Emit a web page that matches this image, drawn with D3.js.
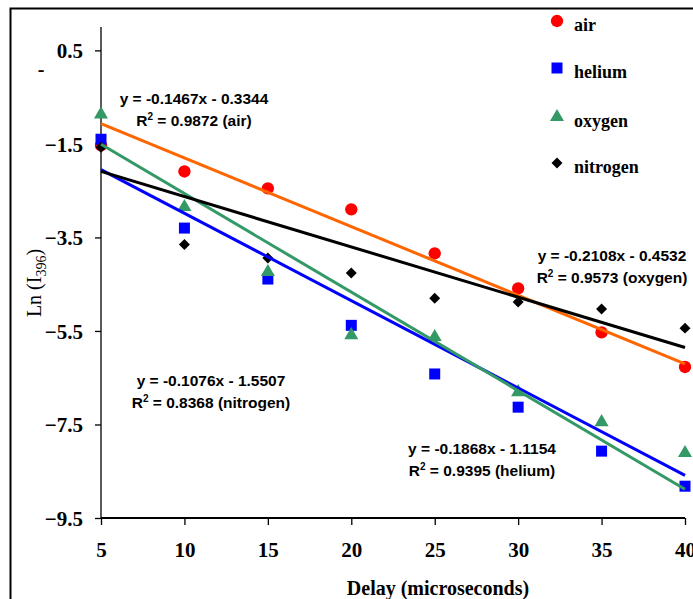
<!DOCTYPE html>
<html lang="en">
<head>
<meta charset="UTF-8">
<title>Ln(I396) vs delay</title>
<script src="https://cdn.jsdelivr.net/npm/d3@7"></script>
<style>
body{margin:0;background:#fff}
.serif{font-family:"Liberation Serif","Times New Roman",serif;font-weight:bold}
.eq{font-family:"Liberation Sans",Arial,sans-serif;font-weight:bold;font-size:15.5px}
</style>
</head>
<body>
<div id="grafica"></div>
<script>
// datos
var delays=[5,10,15,20,25,30,35,40]
var air=[-1.53,-2.09,-2.45,-2.90,-3.84,-4.59,-5.53,-6.27]
var helium=[-1.40,-3.30,-4.39,-5.38,-6.42,-7.13,-8.07,-8.82]
var oxygen=[-0.87,-2.85,-4.24,-5.59,-5.63,-6.81,-7.45,-8.11]
var nitrogen=[-1.57,-3.65,-3.94,-4.26,-4.80,-4.88,-5.03,-5.44]
var yTicks=[-9.5,-7.5,-5.5,-3.5,-1.5,0.5]
var xTicks=[5,10,15,20,25,30,35,40]
// lineas de tendencia (de las ecuaciones del grafico)
var slopes={air:-0.1467,helium:-0.1868,oxygen:-0.2108,nitrogen:-0.1076}
var intercepts={air:-0.3344,helium:-1.1154,oxygen:-0.4532,nitrogen:-1.5507}
var eqLines=[
	{k:'air',l1:'y = -0.1467x - 0.3344',r2:'0.9872 (air)'},
	{k:'oxygen',l1:'y = -0.2108x - 0.4532',r2:'0.9573 (oxygen)'},
	{k:'nitrogen',l1:'y = -0.1076x - 1.5507',r2:'0.8368 (nitrogen)'},
	{k:'helium',l1:'y = -0.1868x - 1.1154',r2:'0.9395 (helium)'}]

var series=[
	{k:'air',vals:air,sym:d3.symbolCircle,size:120,rot:0,color:'#ff0000',line:'#ff6600'},
	{k:'helium',vals:helium,sym:d3.symbolSquare,size:121,rot:0,color:'#0000ff',line:'#0000ff'},
	{k:'oxygen',vals:oxygen,sym:d3.symbolTriangle,size:85,rot:0,color:'#339966',line:'#339966'},
	{k:'nitrogen',vals:nitrogen,sym:d3.symbolSquare,size:60,rot:45,color:'#000000',line:'#000000'}]
var eqPos={air:[194,104],oxygen:[612,261],nitrogen:[211,386],helium:[482,454]}
var legendY=[21,68,117,163]

var ancho=693, alto=599
var svg=d3.select('#grafica').append('svg').attr('width',ancho).attr('height',alto)

// marco
svg.append('path').attr('d','M10.5,'+alto+'V8.5H'+ancho).attr('fill','none').attr('stroke','#000').attr('stroke-width',2)

var x=d3.scaleLinear().domain([5,40]).range([101,685])
var y=d3.scaleLinear().domain([-9.5,1.0]).range([518,27])

// eje y
var ejeY=svg.append('g').attr('transform','translate(101,0)')
	.call(d3.axisLeft(y).tickValues(yTicks).tickSize(6).tickFormat(d3.format('.1f')))
ejeY.select('.domain').attr('d','M0,'+y(1.0)+'V'+y(-9.5)).attr('stroke','#000').attr('stroke-width',1.3)
ejeY.selectAll('.tick line').attr('stroke-width',1.3)
ejeY.selectAll('.tick text').attr('class','serif').style('font-size','21px').attr('x',-18).attr('dy','0.35em').attr('fill','#000')
// eje x
var ejeX=svg.append('g').attr('transform','translate(0,518)')
	.call(d3.axisBottom(x).tickValues(xTicks).tickSize(7).tickFormat(d3.format('d')))
ejeX.select('.domain').attr('d','M'+x(5)+',0H'+x(40)).attr('stroke','#000').attr('stroke-width',2)
ejeX.selectAll('.tick line').attr('stroke-width',1.3)
ejeX.selectAll('.tick text').attr('class','serif').style('font-size','21px').attr('y',32).attr('dy','0.35em').attr('fill','#000')

svg.append('text').attr('class','serif').style('font-size','20px')
	.attr('x',438).attr('y',595).attr('text-anchor','middle').text('Delay (microseconds)')
var yl=svg.append('text').attr('class','serif').style('font-size','20px').style('font-weight','normal')
	.attr('transform','translate(41,283) rotate(-90)').attr('text-anchor','middle')
yl.append('tspan').text('Ln (I')
yl.append('tspan').attr('dy',5).style('font-size','14px').text('396')
yl.append('tspan').attr('dy',-5).text(')')
svg.append('text').attr('class','serif').style('font-size','20px').attr('x',41).attr('y',76).attr('text-anchor','middle').text('-')

// puntos
series.forEach(function(s){
	svg.append('g').selectAll('path').data(s.vals).enter()
		.append('path')
		.attr('d',d3.symbol().type(s.sym).size(s.size))
		.attr('transform',function(d,i){return 'translate('+x(delays[i])+','+y(d)+') rotate('+s.rot+')'})
		.attr('fill',s.color)
})
// lineas de tendencia
var lineas=d3.line().x(function(d){return x(d[0])}).y(function(d){return y(d[1])})
series.forEach(function(s){
	var ext=[5,40].map(function(t){return [t,slopes[s.k]*t+intercepts[s.k]]})
	svg.append('path').datum(ext).attr('d',lineas)
		.attr('fill','none').attr('stroke',s.line).attr('stroke-width',3)
})

// ecuaciones
eqLines.forEach(function(e){
	var p=eqPos[e.k]
	svg.append('text').attr('class','eq').attr('x',p[0]).attr('y',p[1]).attr('text-anchor','middle').text(e.l1)
	var t=svg.append('text').attr('class','eq').attr('x',p[0]).attr('y',p[1]+22).attr('text-anchor','middle')
	t.append('tspan').text('R')
	t.append('tspan').attr('dy',-6).style('font-size','10px').text('2')
	t.append('tspan').attr('dy',6).text(' = '+e.r2)
})

// leyenda
series.forEach(function(s,i){
	svg.append('path').attr('d',d3.symbol().type(s.sym).size(s.size))
		.attr('transform','translate(557,'+legendY[i]+') rotate('+s.rot+')').attr('fill',s.color)
	svg.append('text').attr('class','serif').style('font-size','18px')
		.attr('x',574).attr('y',legendY[i]+10).text(s.k)
})
</script>
</body>
</html>
